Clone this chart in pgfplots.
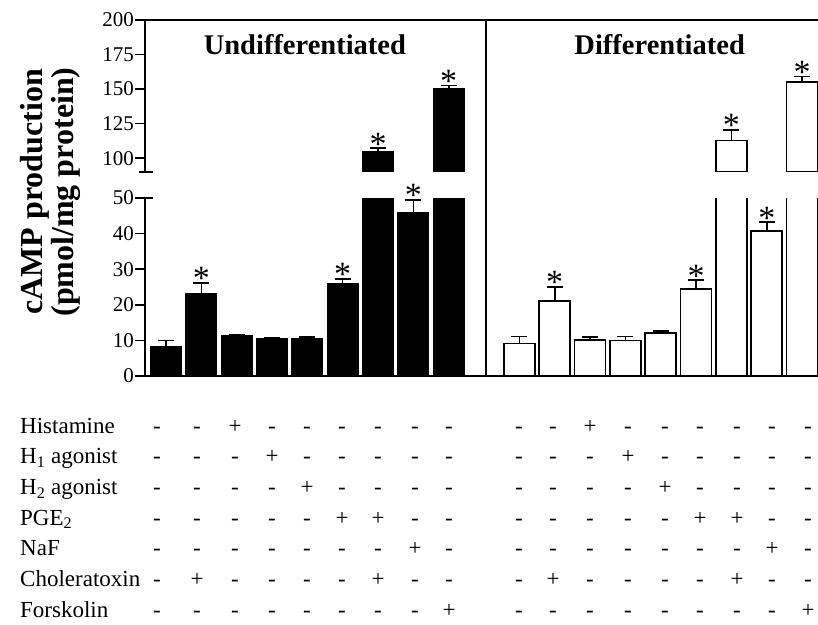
\documentclass[border=0pt]{standalone}
\usepackage{pgfplots}
\pgfplotsset{compat=1.18}
\usepackage{fontspec}
\setmainfont{Liberation Serif}
\newcommand\rowfont{\fontsize{23}{25}\selectfont}
\newcommand\astfont{\fontsize{34}{34}\selectfont}
\pgfplotsset{
  panel/.style={
    scale only axis, width=673pt,
    xmin=0.406, xmax=19.45, xtick=\empty,
    axis line style={line width=1.6pt},
    every tick/.style={black, line width=1.6pt},
    major tick length=10pt, tick align=outside,
    yticklabel style={font=\fontsize{21}{21}\selectfont, inner xsep=1pt},
    /pgf/number format/assume math mode=true,
  },
  blackbar/.style={ybar, bar width=31pt, bar shift=0pt, fill=black, draw=black, line width=1.2pt},
  whitebar/.style={ybar, bar width=31pt, bar shift=0pt, fill=white, draw=black, line width=1.6pt},
  errs/.style={error bars/.cd, y dir=plus, y explicit,
    error bar style={line width=1.6pt, black},
    error mark options={line width=1.6pt, mark size=8pt, rotate=90, black}},
  stars/.style={draw=none, mark=none, nodes near coords={\astfont *},
    every node near coord/.style={anchor=south, inner sep=0pt, yshift=-7pt, black}},
}
\newcommand\tablerow[4]{% #1 label, #2 baseline y, #3 #4 plus columns
  \node[anchor=base west, inner sep=0pt, font=\rowfont] at (20pt,#2pt) {#1};
  \foreach \cx [count=\i] in {157,197,235,272,307,342,378,415,449,519,553,590,628,665,700,737,772,808} {
    \pgfmathtruncatemacro\k{mod(\i-1,9)+1}
    \ifnum\k=#3 \def\s{+}\else\ifnum\k=#4 \def\s{+}\else\def\s{-}\fi\fi
    \node[anchor=base, inner sep=0pt, font=\rowfont] at (\cx pt,#2pt) {\s};
  }%
}
\begin{document}
\begin{tikzpicture}
\path[use as bounding box] (0pt,0pt) rectangle (818pt,624pt);

% upper panel (broken axis, 90-200)
\begin{axis}[panel, at={(145pt,452pt)}, anchor=south west, height=152pt,
  ymin=90, ymax=200, ytick={100,125,150,175,200},
  axis x line*=top, axis y line*=left]
\addplot[blackbar, errs] coordinates {(7,104.8) +- (0,2.4) (9,150) +- (0,2.5)};
\addplot[whitebar, errs] coordinates {(17,112.7) +- (0,7.8) (19,155) +- (0,4)};
\addplot[stars] coordinates {(7,107.2) (9,152.5) (17,120.5) (19,159)};
\node[anchor=base, font=\bfseries\fontsize{28.5}{30}\selectfont] at (axis cs:4.93,174.7) {Undifferentiated};
\node[anchor=base, font=\bfseries\fontsize{28.5}{30}\selectfont] at (axis cs:14.97,174.7) {Differentiated};
\coordinate (dtop) at (axis cs:10.05,200);
\end{axis}

% lower panel (0-50)
\begin{axis}[panel, at={(145pt,248pt)}, anchor=south west, height=178pt,
  ymin=0, ymax=50, ytick={0,10,20,30,40,50},
  axis x line*=bottom, axis y line*=left]
\addplot[blackbar, errs] coordinates {(1,8.2) +- (0,1.8) (2,23.2) +- (0,3.0) (3,11.3) +- (0,0.4)
  (4,10.5) +- (0,0.3) (5,10.4) +- (0,0.5) (6,25.9) +- (0,1.4) (8,46.0) +- (0,3.5)};
\addplot[blackbar] coordinates {(7,104.8) (9,150)};
\addplot[whitebar, errs] coordinates {(11,9.1) +- (0,2.0) (12,21.0) +- (0,4.0) (13,10.1) +- (0,0.9)
  (14,10.0) +- (0,1.1) (15,12.1) +- (0,0.5) (16,24.5) +- (0,2.4) (18,40.7) +- (0,2.5)};
\addplot[whitebar] coordinates {(17,112.7) (19,155)};
\addplot[stars] coordinates {(2,26.2) (6,27.3) (8,49.5) (12,25.0) (16,26.9) (18,43.2)};
\coordinate (dbot) at (axis cs:10.05,0);
\end{axis}

% divider and break marks
\draw[line width=1.6pt] (dbot) -- (dtop);
\draw[line width=1.6pt] (139pt,452pt) -- (153pt,452pt);
\draw[line width=1.6pt] (144pt,426pt) -- (153pt,426pt);

% y label
\node[rotate=90, align=center, font=\bfseries\fontsize{32}{31}\selectfont] at (50pt,432pt)
  {cAMP production\\(pmol/mg protein)};

% treatment table
\tablerow{Histamine}{191}{3}{0}
\tablerow{H\textsubscript{1} agonist}{160.3}{4}{0}
\tablerow{H\textsubscript{2} agonist}{129.6}{5}{0}
\tablerow{PGE\textsubscript{2}}{99}{6}{7}
\tablerow{NaF}{68.2}{8}{0}
\tablerow{Choleratoxin}{37.5}{2}{7}
\tablerow{Forskolin}{6.8}{9}{0}
\end{tikzpicture}
\end{document}
